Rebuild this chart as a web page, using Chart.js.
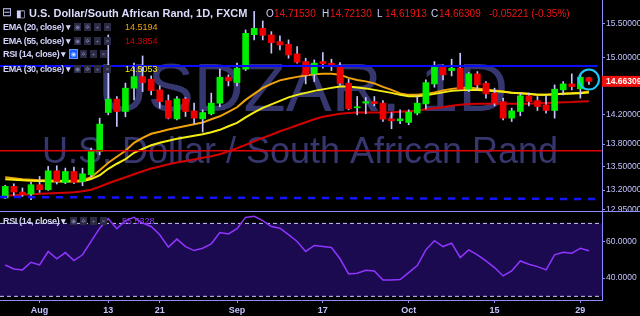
<!DOCTYPE html>
<html>
<head>
<meta charset="utf-8">
<script src="https://cdn.jsdelivr.net/npm/chart.js@4.4.0/dist/chart.umd.min.js"></script>
<style>
  html, body { margin: 0; padding: 0; background: #000; }
  #wrap { position: relative; width: 640px; height: 316px; overflow: hidden; background: #000;
          font-family: 'Liberation Sans', Arial, sans-serif; }
  canvas { position: absolute; left: 0; }
  #main { top: 0; }
  #rsi { top: 211px; }
  .t { position: absolute; white-space: nowrap; line-height: 13px; }
  .title { font-size: 11px; font-weight: bold; color: #dcdcff; }
  .ohlc { font-size: 10px; color: #f01414; }
  .k { font-size: 10px; color: #d0d0ff; }
  .name { font-size: 9px; font-weight: bold; color: #d4d4ff; letter-spacing: -0.35px; line-height: 12px; }
  .btns { position: absolute; height: 8px; }
  .btns span { display: inline-block; width: 7px; height: 8px; margin-right: 3px; background: #2a2a42;
               color: #7c7cae; font-size: 6px; line-height: 8px; text-align: center; vertical-align: top; }
  .btns span.on { background: #1b5cff; color: #cfe0ff; box-shadow: 0 0 0 1px #5d98ff; }
  .val { font-size: 9px; line-height: 12px; }
</style>
</head>
<body>
<div id="wrap">
  <canvas id="main" width="640" height="211"></canvas>
  <canvas id="rsi" width="640" height="105"></canvas>

  <div class="t" style="left:2px;top:6px;font-size:12px;color:#c8c8ff">⊟</div>
  <div class="t" style="left:16px;top:7px;font-size:10px;color:#d0d0ff">◧</div>
  <div class="t title" style="left:29px;top:7px">U.S. Dollar/South African Rand, 1D, FXCM</div>
  <div class="t k" style="left:266px;top:7px">O</div><div class="t ohlc" style="left:274px;top:7px">14.71530</div>
  <div class="t k" style="left:322px;top:7px">H</div><div class="t ohlc" style="left:330px;top:7px">14.72130</div>
  <div class="t k" style="left:377px;top:7px">L</div><div class="t ohlc" style="left:385px;top:7px">14.61913</div>
  <div class="t k" style="left:431px;top:7px">C</div><div class="t ohlc" style="left:439px;top:7px">14.66309</div>
  <div class="t ohlc" style="left:489px;top:7px">-0.05221 (-0.35%)</div>

  <div class="t name" style="left:3px;top:21px">EMA (20, close) ▾</div>
  <div class="btns" style="left:74px;top:23px"><span>◉</span><span>✲</span><span>+</span><span>×</span></div>
  <div class="t val" style="left:125px;top:21px;color:#f0a30a">14.5194</div>

  <div class="t name" style="left:3px;top:35px">EMA (55, close) ▾</div>
  <div class="btns" style="left:74px;top:37px"><span>◉</span><span>✲</span><span>+</span><span>×</span></div>
  <div class="t val" style="left:125px;top:35px;color:#d40000">14.3854</div>

  <div class="t name" style="left:3px;top:48px">RSI (14, close) ▾</div>
  <div class="btns" style="left:70px;top:50px"><span class="on">◉</span><span>✲</span><span>+</span><span>×</span></div>

  <div class="t name" style="left:3px;top:63px">EMA (30, close) ▾</div>
  <div class="btns" style="left:74px;top:65px"><span>◉</span><span>✲</span><span>+</span><span>×</span></div>
  <div class="t val" style="left:125px;top:63px;color:#f5ee10">14.5053</div>

  <div class="t name" style="left:3px;top:215px">RSI (14, close) ▾</div>
  <div class="btns" style="left:70px;top:217px"><span>◉</span><span>✲</span><span>+</span><span>×</span></div>
  <div class="t val" style="left:122px;top:215px;color:#8e3bff">55.5328</div>
</div>

<script>
// daily candles, USD/ZAR (FXCM)
const dates = ['2018-07-26','2018-07-27','2018-07-30','2018-07-31','2018-08-01','2018-08-02','2018-08-03',
  '2018-08-06','2018-08-07','2018-08-08','2018-08-09','2018-08-10','2018-08-13','2018-08-14','2018-08-15',
  '2018-08-16','2018-08-17','2018-08-20','2018-08-21','2018-08-22','2018-08-23','2018-08-24','2018-08-27',
  '2018-08-28','2018-08-29','2018-08-30','2018-08-31','2018-09-03','2018-09-04','2018-09-05','2018-09-06',
  '2018-09-07','2018-09-10','2018-09-11','2018-09-12','2018-09-13','2018-09-14','2018-09-17','2018-09-18',
  '2018-09-19','2018-09-20','2018-09-21','2018-09-24','2018-09-25','2018-09-26','2018-09-27','2018-09-28',
  '2018-10-01','2018-10-02','2018-10-03','2018-10-04','2018-10-05','2018-10-08','2018-10-09','2018-10-10',
  '2018-10-11','2018-10-12','2018-10-15','2018-10-16','2018-10-17','2018-10-18','2018-10-19','2018-10-22',
  '2018-10-23','2018-10-24','2018-10-25','2018-10-26','2018-10-29','2018-10-30'];

const opens = [13.099, 13.247, 13.174, 13.148, 13.268, 13.204, 13.448, 13.297, 13.439, 13.310,
  13.396, 13.701, 14.228, 14.413, 14.242, 14.567, 14.731, 14.694, 14.543, 14.393,
  14.141, 14.417, 14.251, 14.141, 14.210, 14.357, 14.722, 14.646, 14.837, 15.341,
  15.436, 15.337, 15.238, 15.199, 15.058, 14.947, 14.770, 14.947, 14.924, 14.889,
  14.637, 14.293, 14.357, 14.379, 14.357, 14.141, 14.114, 14.092, 14.220, 14.347,
  14.627, 14.866, 14.817, 14.852, 14.553, 14.770, 14.637, 14.497, 14.379, 14.151,
  14.242, 14.460, 14.393, 14.334, 14.256, 14.543, 14.627, 14.557, 14.7153];
const highs = [13.260, 13.281, 13.226, 13.298, 13.374, 13.505, 13.514, 13.483, 13.496, 13.483,
  13.747, 14.151, 15.337, 14.450, 14.638, 14.924, 15.028, 14.741, 14.599, 14.473,
  14.450, 14.436, 14.357, 14.265, 14.497, 14.837, 14.756, 14.924, 15.411, 15.690,
  15.546, 15.386, 15.322, 15.263, 15.164, 14.995, 14.971, 15.077, 14.981, 14.933,
  14.694, 14.450, 14.436, 14.450, 14.393, 14.228, 14.265, 14.265, 14.460, 14.684,
  14.947, 14.898, 14.981, 15.068, 14.789, 14.803, 14.660, 14.567, 14.427, 14.288,
  14.497, 14.497, 14.450, 14.460, 14.613, 14.660, 14.770, 14.756, 14.7213];
const lows = [13.090, 13.130, 13.120, 13.077, 13.170, 13.195, 13.277, 13.281, 13.281, 13.255,
  13.366, 13.658, 14.196, 14.037, 14.169, 14.403, 14.519, 14.473, 14.288, 14.140,
  14.128, 14.173, 14.074, 13.961, 14.196, 14.310, 14.599, 14.599, 14.817, 15.263,
  15.263, 15.068, 15.116, 14.995, 14.924, 14.627, 14.660, 14.852, 14.817, 14.613,
  14.265, 14.196, 14.210, 14.320, 14.105, 14.006, 14.074, 14.060, 14.196, 14.279,
  14.580, 14.684, 14.741, 14.543, 14.519, 14.543, 14.427, 14.320, 14.128, 14.105,
  14.183, 14.320, 14.256, 14.220, 14.151, 14.473, 14.543, 14.427, 14.61913];
const closes = [13.247, 13.174, 13.140, 13.268, 13.204, 13.448, 13.310, 13.439, 13.297, 13.409,
  13.714, 14.069, 14.413, 14.242, 14.567, 14.731, 14.646, 14.533, 14.379, 14.151,
  14.417, 14.242, 14.151, 14.228, 14.357, 14.722, 14.670, 14.852, 15.361, 15.436,
  15.332, 15.223, 15.189, 15.043, 14.938, 14.756, 14.924, 14.914, 14.884, 14.637,
  14.279, 14.307, 14.379, 14.352, 14.137, 14.114, 14.141, 14.233, 14.357, 14.646,
  14.866, 14.756, 14.852, 14.553, 14.770, 14.613, 14.487, 14.357, 14.151, 14.251,
  14.460, 14.379, 14.310, 14.256, 14.553, 14.627, 14.589, 14.722, 14.66309];

const ema20 = [13.364, 13.351, 13.338, 13.332, 13.326, 13.326, 13.319, 13.319, 13.319, 13.326,
  13.364, 13.455, 13.553, 13.632, 13.711, 13.817, 13.884, 13.938, 13.965, 13.996,
  14.019, 14.044, 14.067, 14.090, 14.135, 14.176, 14.237, 14.300, 14.403, 14.487,
  14.571, 14.628, 14.677, 14.705, 14.727, 14.748, 14.763, 14.770, 14.770, 14.756,
  14.713, 14.684, 14.663, 14.635, 14.585, 14.543, 14.494, 14.473, 14.473, 14.487,
  14.508, 14.536, 14.557, 14.571, 14.578, 14.564, 14.550, 14.536, 14.522, 14.501,
  14.494, 14.484, 14.473, 14.473, 14.483, 14.490, 14.494, 14.504, 14.5194];
const ema30 = [13.338, 13.332, 13.326, 13.319, 13.315, 13.313, 13.310, 13.310, 13.310, 13.313,
  13.341, 13.390, 13.474, 13.540, 13.599, 13.684, 13.737, 13.784, 13.817, 13.844,
  13.870, 13.891, 13.911, 13.931, 13.958, 13.992, 14.040, 14.087, 14.162, 14.231,
  14.293, 14.341, 14.389, 14.438, 14.473, 14.501, 14.529, 14.550, 14.571, 14.592,
  14.592, 14.578, 14.564, 14.543, 14.522, 14.501, 14.473, 14.455, 14.452, 14.466,
  14.487, 14.508, 14.529, 14.539, 14.543, 14.540, 14.533, 14.525, 14.515, 14.501,
  14.494, 14.487, 14.476, 14.473, 14.480, 14.487, 14.491, 14.497, 14.5053];
const ema55 = [13.128, 13.134, 13.141, 13.147, 13.153, 13.157, 13.162, 13.166, 13.172, 13.185,
  13.204, 13.242, 13.287, 13.326, 13.364, 13.403, 13.442, 13.477, 13.503, 13.533,
  13.555, 13.576, 13.596, 13.618, 13.638, 13.665, 13.704, 13.744, 13.790, 13.837,
  13.884, 13.925, 13.972, 14.012, 14.053, 14.094, 14.135, 14.169, 14.190, 14.210,
  14.221, 14.228, 14.228, 14.228, 14.228, 14.231, 14.237, 14.244, 14.255, 14.272,
  14.286, 14.302, 14.320, 14.334, 14.344, 14.348, 14.348, 14.348, 14.348, 14.348,
  14.348, 14.350, 14.355, 14.359, 14.364, 14.371, 14.374, 14.380, 14.3854];

const rsi = [47.2, 45.0, 44.5, 48.7, 47.2, 54.6, 50.6, 54.0, 49.6, 52.8,
  60.1, 67.4, 72.6, 67.1, 71.5, 73.3, 70.2, 68.3, 63.8, 57.0,
  61.4, 57.3, 55.1, 56.4, 58.8, 65.0, 64.2, 67.1, 73.3, 73.9,
  71.5, 68.3, 67.4, 63.8, 60.1, 54.6, 57.9, 57.3, 56.8, 50.6,
  42.3, 42.7, 44.3, 43.9, 39.0, 39.0, 39.2, 43.0, 46.9, 55.5,
  60.5, 57.3, 59.2, 51.3, 55.5, 52.8, 49.4, 45.8, 41.2, 43.9,
  49.4, 47.6, 46.3, 44.5, 52.8, 54.2, 53.7, 56.4, 55.0];
const rsiBands = [70, 30];

// drawn levels: horizontal lines and a trend line (price values)
const blueLevel = 14.884;
const redLevel = 13.712;
const trendLine = [13.111, 13.086];

const priceTicks = [15.5, 15.0, 14.2, 13.8, 13.5, 13.2, 12.95];
const rsiTicks = [60, 40];
const tickDates = ['2018-08-01','2018-08-13','2018-08-21','2018-09-03','2018-09-17','2018-10-01','2018-10-15','2018-10-29'];
const tickText = ['Aug', '13', '21', 'Sep', '17', 'Oct', '15', '29'];

const xMin = -0.613, xMax = 69.52;
const last = closes.length - 1;
const tickIdx = tickDates.map(d => dates.indexOf(d));
const axisCol = '#8c8cff';
const labelCol = '#c4c4ff';

Chart.defaults.font.family = "'Liberation Sans', Arial, sans-serif";

const pts = arr => arr.map((v, i) => ({ x: i, y: v }));
const flat = (v, a, b) => [{ x: a, y: v }, { x: b, y: v }];

const mainDecor = {
  id: 'mainDecor',
  beforeDatasetsDraw(chart) {
    const { ctx, chartArea: a } = chart;
    ctx.save();
    ctx.beginPath();
    ctx.rect(a.left, a.top, a.width, a.height);
    ctx.clip();
    ctx.fillStyle = '#37376f';
    ctx.textAlign = 'center';
    ctx.font = "69px 'Liberation Sans'";
    ctx.fillText('USDZAR, 1D', 303, 111);
    ctx.font = "36px 'Liberation Sans'";
    ctx.fillText('U.S. Dollar / South African Rand', 300, 163);
    ctx.restore();
  },
  afterDraw(chart) {
    const { ctx, chartArea: a, scales } = chart;
    // highlight the last candle
    const cx = scales.x.getPixelForValue(last);
    const cy = scales.y.getPixelForValue((opens[last] + closes[last]) / 2);
    ctx.save();
    ctx.strokeStyle = '#1ec8ff';
    ctx.lineWidth = 2;
    ctx.beginPath();
    ctx.arc(cx, cy, 10, 0, Math.PI * 2);
    ctx.stroke();
    // last price tag
    const py = scales.y.getPixelForValue(closes[last]);
    ctx.fillStyle = '#ee1111';
    ctx.fillRect(a.right, py - 5.5, 40, 11);
    ctx.fillStyle = '#ffffff';
    ctx.font = "bold 8.5px 'Liberation Sans'";
    ctx.textBaseline = 'middle';
    ctx.textAlign = 'left';
    ctx.fillText(closes[last].toFixed(5), a.right + 4, py + 0.5);
    ctx.restore();
  }
};

new Chart(document.getElementById('main'), {
  type: 'bar',
  data: {
    datasets: [
      { type: 'line', data: flat(blueLevel, xMin, 69.0), borderColor: '#0c0cff', borderWidth: 2, pointRadius: 0, order: -1 },
      { type: 'line', data: flat(redLevel, xMin, xMax), borderColor: '#e00000', borderWidth: 1.5, pointRadius: 0, order: -1 },
      { type: 'line', data: [{ x: xMin, y: trendLine[0] }, { x: 69.0, y: trendLine[1] }], borderColor: '#1414ff',
        borderWidth: 2.5, borderDash: [7, 7], pointRadius: 0, order: -1 },
      { data: lows.map((l, i) => ({ x: i, y: [l, highs[i]] })), backgroundColor: '#c4c4ff',
        barThickness: 1, grouped: false, order: 1 },
      { data: opens.map((o, i) => ({ x: i, y: [o, closes[i]] })),
        backgroundColor: opens.map((o, i) => closes[i] >= o ? '#00ee00' : '#ee0000'),
        barThickness: 6, minBarLength: 1, grouped: false, borderWidth: 0, order: 0 },
      { type: 'line', data: pts(ema55), borderColor: '#d40000', borderWidth: 2, pointRadius: 0, order: 2 },
      { type: 'line', data: pts(ema30), borderColor: '#f5ee10', borderWidth: 2, pointRadius: 0, order: 2 },
      { type: 'line', data: pts(ema20), borderColor: '#f0a30a', borderWidth: 2, pointRadius: 0, order: 2 }
    ]
  },
  options: {
    responsive: false,
    animation: false,
    devicePixelRatio: 1,
    layout: { padding: 0, autoPadding: false },
    plugins: { legend: { display: false }, tooltip: { enabled: false } },
    scales: {
      x: { type: 'linear', min: xMin, max: xMax, offset: false, display: false },
      y: {
        type: 'logarithmic', position: 'right', min: 12.935, max: 15.864, bounds: 'data',
        afterBuildTicks: s => { s.ticks = priceTicks.map(v => ({ value: v })); },
        afterFit: s => { s.width = 38; s.paddingTop = 0; s.paddingBottom = 0; },
        grid: { drawOnChartArea: false, tickLength: 3, color: axisCol },
        border: { color: axisCol },
        ticks: { color: labelCol, font: { size: 8.5 }, padding: 1, callback: v => Number(v).toFixed(5) }
      }
    }
  },
  plugins: [mainDecor]
});

const rsiDecor = {
  id: 'rsiDecor',
  afterDraw(chart) {
    const { ctx, width } = chart;
    ctx.save();
    ctx.strokeStyle = axisCol;
    ctx.lineWidth = 1;
    ctx.beginPath();
    ctx.moveTo(0, 0.5);
    ctx.lineTo(width, 0.5);
    ctx.stroke();
    ctx.restore();
  }
};

new Chart(document.getElementById('rsi'), {
  type: 'line',
  data: {
    datasets: [
      { data: pts(rsi), borderColor: '#9035ff', borderWidth: 1.5, pointRadius: 0, order: 0 },
      { data: flat(rsiBands[0], xMin, xMax), borderColor: '#c8c8ff', borderWidth: 1, borderDash: [4, 3],
        pointRadius: 0, order: 1 },
      { data: flat(rsiBands[1], xMin, xMax), borderColor: '#c8c8ff', borderWidth: 1, borderDash: [4, 3],
        pointRadius: 0, fill: '-1', backgroundColor: '#1c0a50', order: 1 }
    ]
  },
  options: {
    responsive: false,
    animation: false,
    devicePixelRatio: 1,
    layout: { padding: 0, autoPadding: false },
    plugins: { legend: { display: false }, tooltip: { enabled: false } },
    scales: {
      x: {
        type: 'linear', min: xMin, max: xMax, position: 'bottom',
        afterBuildTicks: s => { s.ticks = tickIdx.map(v => ({ value: v })); },
        afterFit: s => { s.height = 16; s.paddingLeft = 0; s.paddingRight = 0; },
        grid: { drawOnChartArea: false, tickLength: 3, color: axisCol },
        border: { color: axisCol },
        ticks: { color: labelCol, font: { size: 9, weight: 'bold' }, padding: 2, maxRotation: 0, autoSkip: false,
                 callback: v => tickText[tickIdx.indexOf(v)] }
      },
      y: {
        type: 'linear', position: 'right', min: 28, max: 76.8,
        afterBuildTicks: s => { s.ticks = rsiTicks.map(v => ({ value: v })); },
        afterFit: s => { s.width = 38; s.paddingTop = 0; s.paddingBottom = 0; },
        grid: { drawOnChartArea: false, tickLength: 3, color: axisCol },
        border: { color: axisCol },
        ticks: { color: labelCol, font: { size: 8.5 }, padding: 1, callback: v => Number(v).toFixed(4) }
      }
    }
  },
  plugins: [rsiDecor]
});
</script>
</body>
</html>
